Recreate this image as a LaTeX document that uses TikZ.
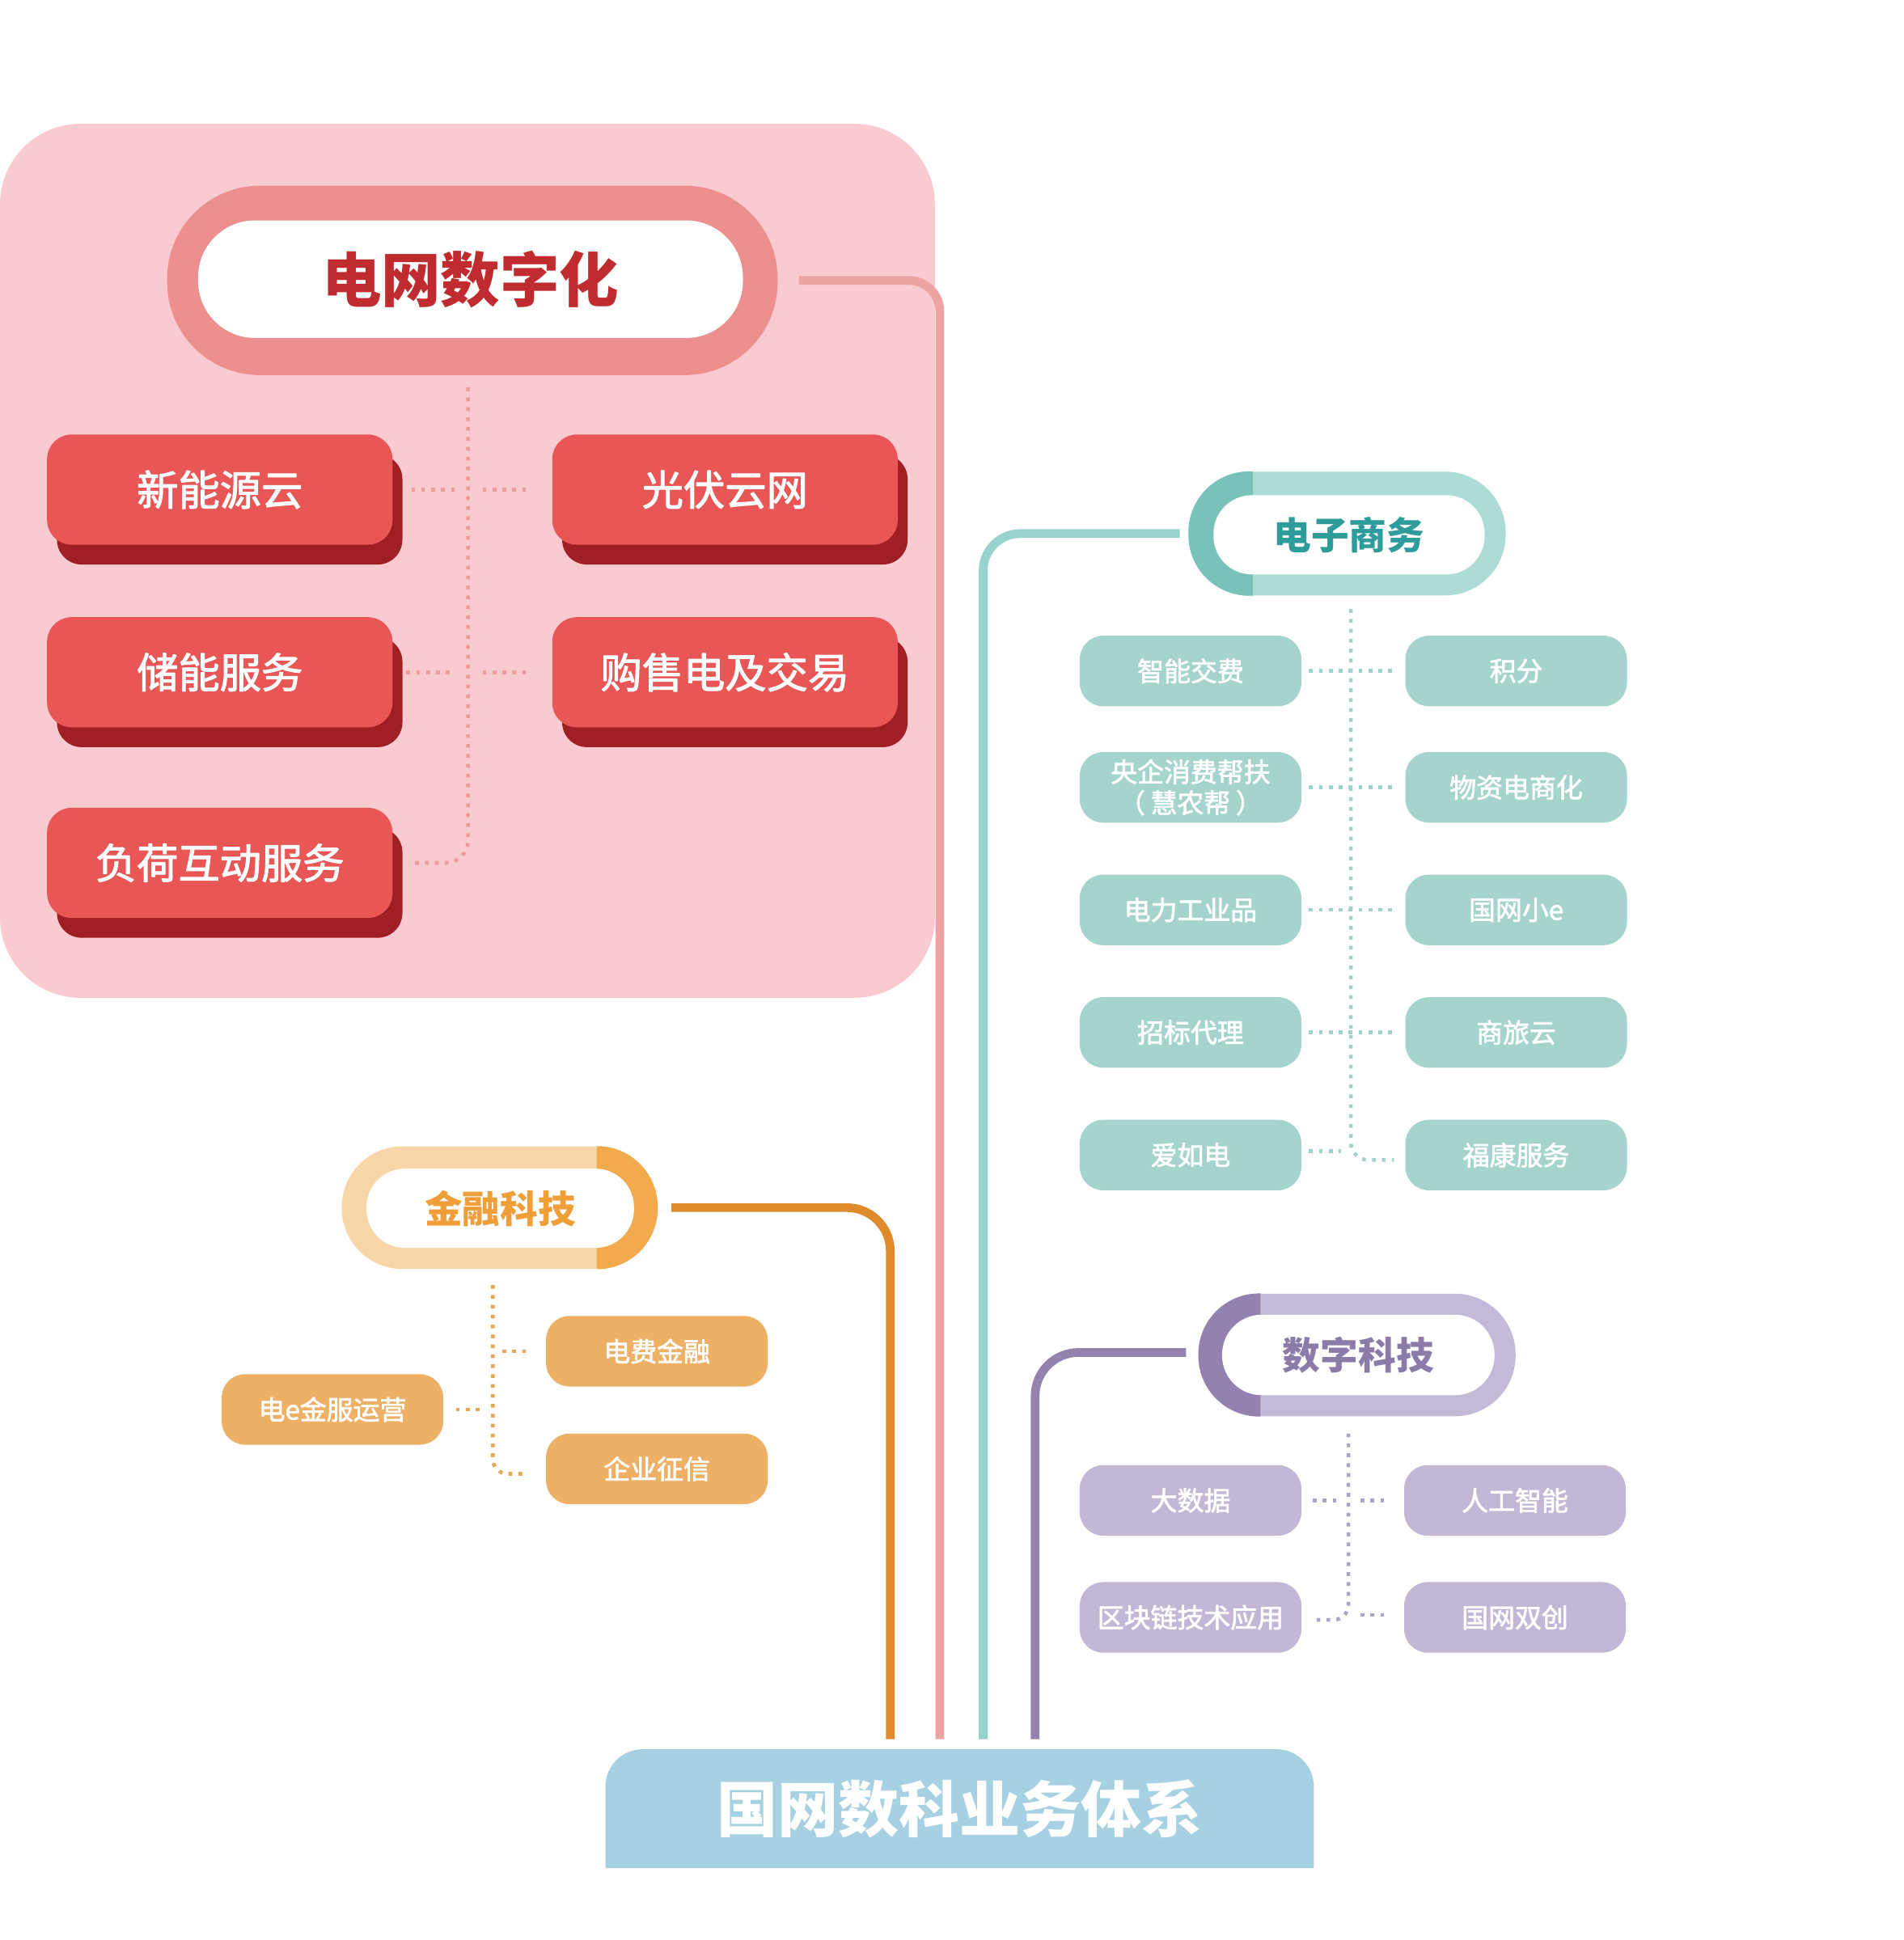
\documentclass[tikz,border=0pt]{standalone}
\usepackage{fontspec}
\newfontfamily\cjk{Noto Sans CJK SC}
\newfontfamily\cjkm{Noto Sans CJK SC}[Kerning=Off]
\usetikzlibrary{shadows}
\definecolor{cPanel}{HTML}{F9CACF}
\definecolor{cRingPink}{HTML}{EC8F8E}
\definecolor{cGridText}{HTML}{BF2B2E}
\definecolor{cRedMain}{HTML}{E85656}
\definecolor{cRedDark}{HTML}{A01F24}
\definecolor{cPinkLine}{HTML}{EDA3A2}
\definecolor{cPinkDot}{HTML}{EB9C9C}
\definecolor{cTealRing}{HTML}{ADDCD5}
\definecolor{cTealDark}{HTML}{78C2B9}
\definecolor{cTealText}{HTML}{2E9C9A}
\definecolor{cTealBox}{HTML}{A5D4CC}
\definecolor{cTealLine}{HTML}{98D3CB}
\definecolor{cTealDot}{HTML}{9FD2CB}
\definecolor{cOrRing}{HTML}{F9D6A8}
\definecolor{cOrDark}{HTML}{F2AA4C}
\definecolor{cOrText}{HTML}{EF9E38}
\definecolor{cOrBox}{HTML}{EDB064}
\definecolor{cOrLine}{HTML}{DF8A2B}
\definecolor{cOrDot}{HTML}{E8A555}
\definecolor{cPuRing}{HTML}{C3BAD7}
\definecolor{cPuDark}{HTML}{9282AF}
\definecolor{cPuText}{HTML}{8A7BA8}
\definecolor{cPuBox}{HTML}{C2B8D6}
\definecolor{cPuLine}{HTML}{9283AF}
\definecolor{cPuDot}{HTML}{ABA4C4}
\definecolor{cBase}{HTML}{A5D1E3}
\begin{document}
\begin{tikzpicture}[x=1pt,y=-1pt,
  box/.style={inner sep=0pt, text=white, align=center},
  heavier/.style={execute at begin node={\special{pdf:literal direct #1 w 1 j 2 Tr}},
    execute at end node={\special{pdf:literal direct 0 Tr}}},
  redbox/.style={box, heavier=0.7, fill=cRedMain, rounded corners=20pt, minimum width=279pt, minimum height=89pt,
    font=\cjkm\fontsize{33.5}{38}\selectfont,
    general shadow={fill=cRedDark, shadow xshift=8pt, shadow yshift=-16pt}},
  smallbox/.style={box, heavier=0.45, rounded corners=19pt, minimum width=179pt, minimum height=57pt,
    font=\cjkm\fontsize{21.5}{25}\selectfont},
  tbox/.style={smallbox, fill=cTealBox},
  obox/.style={smallbox, fill=cOrBox},
  pbox/.style={smallbox, fill=cPuBox},
  ring/.style={inner sep=0pt},
  pilltext/.style={inner sep=0pt, fill=white, font=\cjk\bfseries\fontsize{30.5}{34}\selectfont},
  dotline/.style={line width=3pt, dash pattern=on 3pt off 5pt},
  mainline/.style={line width=7pt}
]
\fill[white] (0,0) rectangle (1537.7,1567.1);
\useasboundingbox (0,0) rectangle (1537.7,1567.1);

% ---------- grid digitalisation panel ----------
\fill[cPanel, rounded corners=65pt] (0,100) rectangle (755,806);
\node[ring, fill=cRingPink, rounded corners=75pt, minimum width=493pt, minimum height=153pt] (gridring) at (381.5,226.5) {};
\node[inner sep=0pt, fill=white, rounded corners=46pt, minimum width=440pt, minimum height=95pt,
  text=cGridText, font=\cjk\bfseries\fontsize{48}{52}\selectfont] (grid) at (380,225.5) {电网数字化};

\node[redbox] (xny) at (177.5,395.5) {新能源云};
\node[redbox] (gfy) at (585.5,395.5) {光伏云网};
\node[redbox] (cnf) at (177.5,543) {储能服务};
\node[redbox] (gsd) at (585.5,543) {购售电及交易};
\node[redbox] (fh) at (177.5,697) {负荷互动服务};

\coordinate (gtop) at (378,313);
\draw[cPinkDot, dotline, rounded corners=18pt] (gtop) |- ([xshift=13pt]fh.east);
\draw[cPinkDot, dotline] ([xshift=15pt]xny.east) -- ++(36,0);
\draw[cPinkDot, dotline] ([xshift=-21pt]gfy.west) -- ++(-35,0);
\draw[cPinkDot, dotline] ([xshift=11pt]cnf.east) -- ++(38,0);
\draw[cPinkDot, dotline] ([xshift=-21pt]gsd.west) -- ++(-35,0);

% ---------- e-commerce ----------
\node[ring, fill=cTealRing, rounded corners=49pt, minimum width=256pt, minimum height=100pt] (ecring) at (1088,431) {};
\begin{scope}
\clip (900,360) rectangle (1012,500);
\fill[cTealDark, rounded corners=49pt] (ecring.south west) rectangle (ecring.north east);
\end{scope}
\node[pilltext, rounded corners=31pt, minimum width=219pt, minimum height=64pt, text=cTealText] (ec) at (1089.5,432) {电子商务};

\node[tbox] (znjf) at (961.5,542) {智能交费};
\node[tbox] (jf) at (1224.5,542) {积分};
\node[tbox] (yq) at (961.5,636) {央企消费帮扶\\（\hspace{0.2em}慧农帮\hspace{0.2em}）};
\node[tbox] (wz) at (1224.5,636) {物资电商化};
\node[tbox] (dl) at (961.5,735) {电力工业品};
\node[tbox] (xe) at (1224.5,735) {国网小e};
\node[tbox] (zb) at (961.5,834) {招标代理};
\node[tbox] (sl) at (1224.5,834) {商旅云};
\node[tbox] (arh) at (961.5,933) {爱如电};
\node[tbox] (fk) at (1224.5,933) {福康服务};

\coordinate (ectop) at (1091,492);
\draw[cTealDot, dotline, rounded corners=14pt] (ectop) |- ([xshift=-9pt,yshift=-4pt]fk.west);
\draw[cTealDot, dotline] ([xshift=6pt]znjf.east) -- ([xshift=-10pt]jf.west);
\draw[cTealDot, dotline] ([xshift=6pt]yq.east) -- ([xshift=-10pt]wz.west);
\draw[cTealDot, dotline] ([xshift=6pt]dl.east) -- ([xshift=-10pt]xe.west);
\draw[cTealDot, dotline] ([xshift=6pt]zb.east) -- ([xshift=-10pt]sl.west);
\draw[cTealDot, dotline] ([xshift=6pt,yshift=3pt]arh.east) -- ++(26,0);

% ---------- fintech ----------
\node[ring, fill=cOrRing, rounded corners=49pt, minimum width=255pt, minimum height=99pt] (finring) at (403.5,975.5) {};
\begin{scope}
\clip (482,900) rectangle (600,1050);
\fill[cOrDark, rounded corners=49pt] (finring.south west) rectangle (finring.north east);
\end{scope}
\node[pilltext, rounded corners=31pt, minimum width=216pt, minimum height=64pt, text=cOrText] (fin) at (404,976) {金融科技};

\node[obox] (dfjr) at (530.5,1091.5) {电费金融};
\node[obox] (qyzx) at (530.5,1186.5) {企业征信};
\node[obox] (dejf) at (268.5,1138.5) {电e金服运营};

\coordinate (fintop) at (398,1038);
\draw[cOrDot, dotline, rounded corners=12pt] (fintop) |- ([xshift=-16pt,yshift=-4pt]qyzx.west);
\draw[cOrDot, dotline] ([xshift=-16pt]dfjr.west) -- ++(-20,0);
\draw[cOrDot, dotline] ([xshift=10pt]dejf.east) -- ++(22,0);

% ---------- digital tech ----------
\node[ring, fill=cPuRing, rounded corners=49pt, minimum width=256pt, minimum height=99pt] (dtring) at (1096,1094.5) {};
\begin{scope}
\clip (900,1030) rectangle (1018,1160);
\fill[cPuDark, rounded corners=49pt] (dtring.south west) rectangle (dtring.north east);
\end{scope}
\node[pilltext, rounded corners=32pt, minimum width=220pt, minimum height=65pt, text=cPuText] (dt) at (1097,1094.5) {数字科技};

\node[pbox] (dsj) at (961.5,1212) {大数据};
\node[pbox] (rgzn) at (1223.5,1212) {人工智能};
\node[pbox] (qkl) at (961.5,1306.5) {区块链技术应用};
\node[pbox] (gwsc) at (1223.5,1306.5) {国网双创};

\coordinate (dttop) at (1089,1158);
\draw[cPuDot, dotline, rounded corners=12pt] (dttop) |- ([xshift=12pt,yshift=-2pt]qkl.east);
\draw[cPuDot, dotline] ([xshift=9pt]dsj.east) -- ++(22,0);
\draw[cPuDot, dotline] ([xshift=-16pt]rgzn.west) -- ++(-20,0);
\draw[cPuDot, dotline] ([xshift=-16pt,yshift=2pt]gwsc.west) -- ++(-20,0);

% ---------- base ----------
\fill[cBase] (489,1509) -- (489,1470) [rounded corners=30pt] -- (489,1413) -- (1061,1413) -- (1061,1470) [sharp corners] -- (1061,1509) -- cycle;
\node[inner sep=0pt, minimum width=572pt, minimum height=96pt, text=white,
  font=\cjk\bfseries\fontsize{49}{54}\selectfont] (base) at (775,1461) {国网数科业务体系};

% ---------- main connectors ----------
\draw[mainline, cOrLine, rounded corners=35pt] ([xshift=11pt]finring.east) -| ([xshift=-56pt,yshift=8pt]base.north);
\draw[mainline, cPinkLine, rounded corners=25pt] ([xshift=17pt]gridring.east) -| ([xshift=-16pt,yshift=8pt]base.north);
\draw[mainline, cTealLine, rounded corners=30pt] ([xshift=-7pt]ecring.west) -| ([xshift=19pt,yshift=8pt]base.north);
\draw[mainline, cPuLine, rounded corners=35pt] ([xshift=-10pt,yshift=2pt]dtring.west) -| ([xshift=61pt,yshift=8pt]base.north);
\end{tikzpicture}
\end{document}
